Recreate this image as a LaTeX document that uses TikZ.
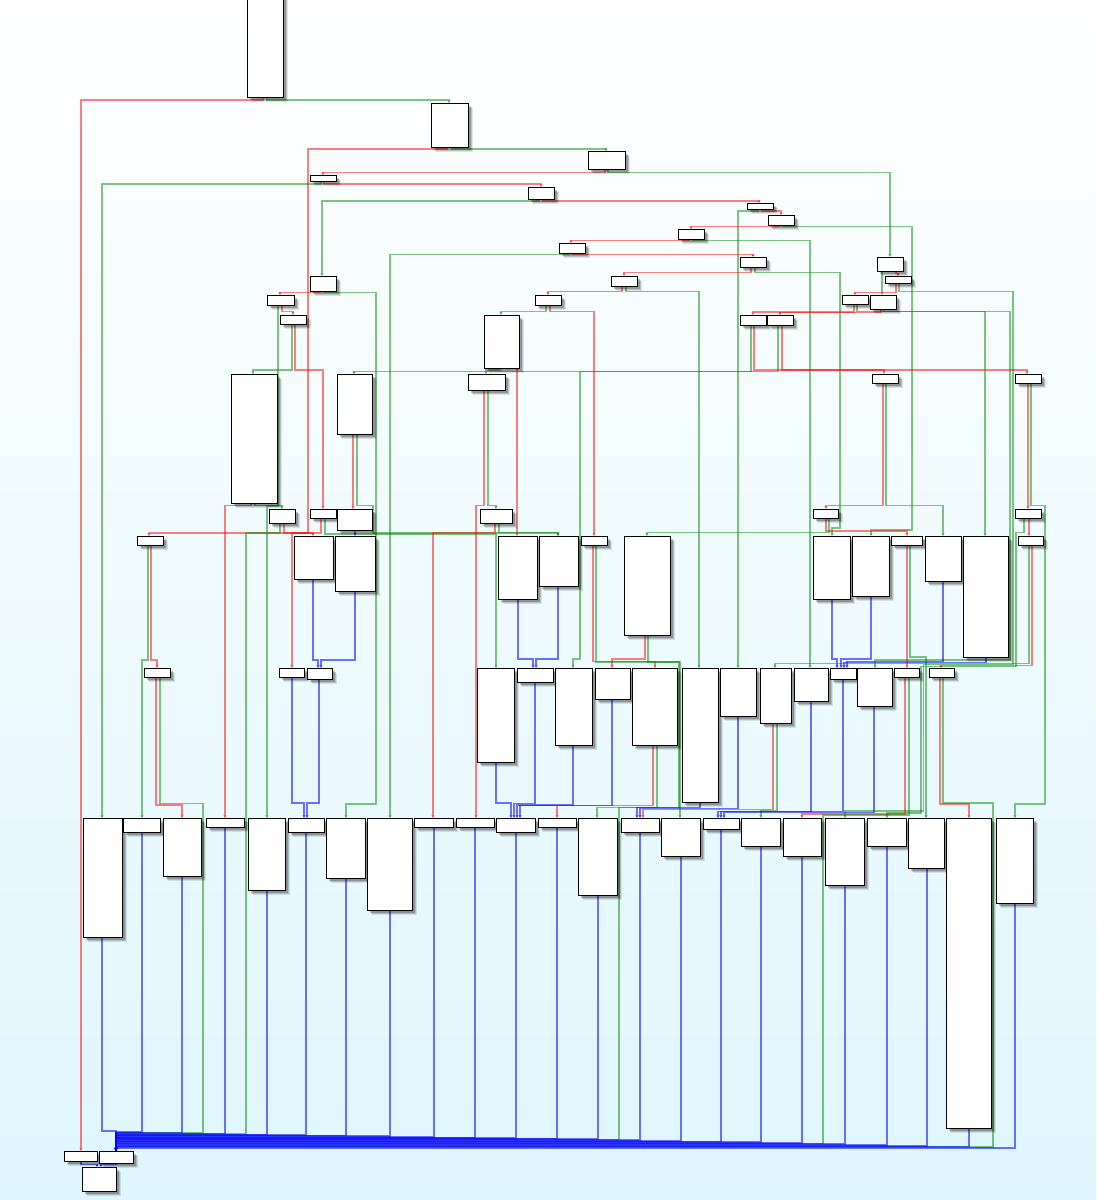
\documentclass[tikz,border=0pt]{standalone}
\usetikzlibrary{arrows.meta,shadows}
\definecolor{bgc}{RGB}{222,246,253}
\definecolor{egr}{RGB}{0,140,0}
\pgfdeclarelayer{bgl}\pgfdeclarelayer{edl}\pgfsetlayers{bgl,edl,main}
\tikzset{
 blk/.style={draw=black,line width=0.9pt,fill=white,inner sep=0pt,outer sep=0pt,anchor=north west,
   drop shadow={shadow xshift=4.5pt,shadow yshift=-4.5pt,opacity=0.10,fill=black},
   drop shadow={shadow xshift=3.5pt,shadow yshift=-3.5pt,opacity=0.15,fill=black},
   drop shadow={shadow xshift=2.5pt,shadow yshift=-2.5pt,opacity=0.22,fill=black}},
 ed/.style={line width=1.4pt,opacity=0.5,-{Stealth[length=3pt,width=3.2pt]}},
 re/.style={ed,draw=red},
 ge/.style={ed,draw=egr},
 be/.style={ed,draw=blue,opacity=0.55},
}
\newcommand\bx[5]{\node[blk,minimum width={#4pt-#2pt},minimum height={#5pt-#3pt}] (#1) at (#2,#3) {};}
\begin{document}
\begin{tikzpicture}[x=1pt,y=-1pt]
\useasboundingbox (0,0) rectangle (1096,1200);
\begin{pgfonlayer}{bgl}\shade[top color=white,bottom color=bgc] (0,0) rectangle (1096,1200);\end{pgfonlayer}
\bx{B1}{247}{-5}{283}{97}
\bx{B2}{431}{103}{468}{147}
\bx{B3}{588}{151}{625}{169}
\bx{B4}{310}{175}{336}{181}
\bx{B5}{528}{187}{554}{199}
\bx{B6}{747}{203}{773}{209}
\bx{B7}{768}{215}{794}{225}
\bx{B8}{678}{229}{704}{239}
\bx{B9}{559}{243}{585}{253}
\bx{B10}{740}{257}{766}{267}
\bx{B11}{611}{276}{637}{286}
\bx{B12}{310}{276}{336}{291}
\bx{B13}{267}{295}{294}{305}
\bx{B14}{535}{295}{561}{305}
\bx{B15}{280}{315}{306}{324}
\bx{B16}{484}{315}{519}{368}
\bx{B17}{740}{315}{766}{325}
\bx{B18}{767}{315}{793}{325}
\bx{B19}{877}{257}{903}{271}
\bx{B20}{885}{276}{911}{283}
\bx{B21}{842}{295}{868}{304}
\bx{B22}{870}{295}{896}{309}
\bx{B23}{872}{374}{898}{383}
\bx{B24}{1015}{374}{1041}{383}
\bx{B25}{231}{374}{277}{503}
\bx{B26}{337}{374}{372}{434}
\bx{B27}{468}{374}{505}{390}
\bx{B28}{269}{509}{295}{523}
\bx{B29}{310}{509}{336}{518}
\bx{B30}{337}{509}{372}{530}
\bx{B31}{480}{509}{512}{523}
\bx{B32}{137}{536}{163}{545}
\bx{B33}{294}{536}{333}{579}
\bx{B34}{335}{536}{375}{591}
\bx{B35}{498}{536}{537}{599}
\bx{B36}{539}{536}{578}{586}
\bx{B37}{581}{536}{607}{545}
\bx{B38}{624}{536}{670}{635}
\bx{B39}{813}{509}{838}{518}
\bx{B40}{813}{536}{850}{599}
\bx{B41}{852}{536}{889}{596}
\bx{B42}{891}{536}{922}{545}
\bx{B43}{925}{536}{961}{581}
\bx{B44}{963}{536}{1008}{657}
\bx{B45}{1015}{509}{1041}{518}
\bx{B46}{1018}{536}{1043}{545}
\bx{B47}{144}{668}{170}{677}
\bx{B48}{279}{668}{304}{677}
\bx{B49}{307}{668}{332}{679}
\bx{B50}{477}{668}{514}{762}
\bx{B51}{517}{668}{553}{682}
\bx{B52}{555}{668}{592}{745}
\bx{B53}{595}{668}{630}{699}
\bx{B54}{632}{668}{677}{745}
\bx{B55}{682}{668}{718}{802}
\bx{B56}{720}{668}{756}{716}
\bx{B57}{760}{668}{791}{723}
\bx{B58}{794}{668}{828}{701}
\bx{B59}{830}{668}{856}{679}
\bx{B60}{857}{668}{892}{706}
\bx{B61}{894}{668}{919}{677}
\bx{B62}{929}{668}{954}{677}
\bx{C1}{83}{818}{122}{937}
\bx{C2}{123}{818}{160}{832}
\bx{C3}{163}{818}{201}{876}
\bx{C4}{206}{818}{244}{827}
\bx{C5}{248}{818}{285}{890}
\bx{C6}{288}{818}{324}{832}
\bx{C7}{326}{818}{365}{878}
\bx{C8}{367}{818}{412}{910}
\bx{C9}{414}{818}{453}{827}
\bx{C10}{456}{818}{494}{827}
\bx{C11}{496}{818}{535}{832}
\bx{C12}{538}{818}{576}{827}
\bx{C13}{578}{818}{617}{895}
\bx{C14}{621}{818}{659}{832}
\bx{C15}{661}{818}{700}{856}
\bx{C16}{703}{818}{739}{829}
\bx{C17}{741}{818}{780}{846}
\bx{C18}{783}{818}{821}{856}
\bx{C19}{825}{818}{864}{885}
\bx{C20}{867}{818}{906}{846}
\bx{C21}{908}{818}{944}{868}
\bx{C22}{946}{818}{991}{1128}
\bx{C23}{996}{818}{1033}{903}
\bx{D1}{64}{1151}{97}{1161}
\bx{D2}{99}{1151}{133}{1163}
\bx{D3}{82}{1167}{116}{1191}
\begin{pgfonlayer}{edl}
\draw[re] (263,0|-B1.south) -- (263,100) -- (81,100) -- (81,0|-D1.north);
\draw[ge] (267,0|-B1.south) -- (267,100) -- (449,100) -- (449,0|-B2.north);
\draw[re] (447,0|-B2.south) -- (447,149) -- (308,149) -- (308,533) -- (149,533) -- (149,0|-B32.north);
\draw[ge] (452,0|-B2.south) -- (452,149) -- (606,149) -- (606,0|-B3.north);
\draw[re] (605,0|-B3.south) -- (605,172.5) -- (323,172.5) -- (323,0|-B4.north);
\draw[ge] (608,0|-B3.south) -- (608,172.5) -- (890,172.5) -- (890,0|-B19.north);
\draw[ge] (321,0|-B4.south) -- (321,184) -- (102,184) -- (102,0|-C1.north);
\draw[re] (324,0|-B4.south) -- (324,184) -- (541,184) -- (541,0|-B5.north);
\draw[ge] (539,0|-B5.south) -- (539,201) -- (322,201) -- (322,0|-B12.north);
\draw[re] (543,0|-B5.south) -- (543,201) -- (759,201) -- (759,0|-B6.north);
\draw[ge] (758,0|-B6.south) -- (758,211) -- (738,211) -- (738,0|-B56.north);
\draw[re] (762,0|-B6.south) -- (762,211) -- (781,211) -- (781,0|-B7.north);
\draw[re] (779,0|-B7.south) -- (779,226.5) -- (691,226.5) -- (691,0|-B8.north);
\draw[ge] (783,0|-B7.south) -- (783,226.5) -- (912,226.5) -- (912,530) -- (871,530) -- (871,0|-B41.north);
\draw[re] (689,0|-B8.south) -- (689,240.5) -- (571,240.5) -- (571,0|-B9.north);
\draw[ge] (693,0|-B8.south) -- (693,240.5) -- (810,240.5) -- (810,0|-B58.north);
\draw[re] (573,0|-B9.south) -- (573,254.5) -- (753,254.5) -- (753,0|-B10.north);
\draw[ge] (569,0|-B9.south) -- (569,254.5) -- (390,254.5) -- (390,0|-C8.north);
\draw[re] (751,0|-B10.south) -- (751,272.5) -- (624,272.5) -- (624,0|-B11.north);
\draw[ge] (755,0|-B10.south) -- (755,272.5) -- (840,272.5) -- (840,528) -- (832,528) -- (832,0|-B40.north);
\draw[re] (622,0|-B11.south) -- (622,291.5) -- (548,291.5) -- (548,0|-B14.north);
\draw[ge] (626,0|-B11.south) -- (626,291.5) -- (699,291.5) -- (699,0|-B55.north);
\draw[re] (320,0|-B12.south) -- (320,292.5) -- (280,292.5) -- (280,0|-B13.north);
\draw[ge] (324,0|-B12.south) -- (324,292.5) -- (376,292.5) -- (376,804) -- (346,804) -- (346,0|-C7.north);
\draw[re] (282,0|-B13.south) -- (282,311.5) -- (293,311.5) -- (293,0|-B15.north);
\draw[ge] (278,0|-B13.south) -- (278,506) -- (267,506) -- (267,0|-C5.north);
\draw[ge] (292,0|-B15.south) -- (292,370) -- (253,370) -- (253,0|-B25.north);
\draw[re] (295,0|-B15.south) -- (295,370) -- (323,370) -- (323,0|-B29.north);
\draw[ge] (546,0|-B14.south) -- (546,311.5) -- (501,311.5) -- (501,0|-B16.north);
\draw[re] (550,0|-B14.south) -- (550,311.5) -- (594,311.5) -- (594,0|-B37.north);
\draw[ge] (500,0|-B16.south) -- (500,370) -- (486,370) -- (486,0|-B27.north);
\draw[re] (517,0|-B16.south) -- (517,0|-B35.north);
\draw[ge] (751,0|-B17.south) -- (751,371.5) -- (354,371.5) -- (354,0|-B26.north);
\draw[re] (754,0|-B17.south) -- (754,370) -- (884,370) -- (884,0|-B23.north);
\draw[ge] (778,0|-B18.south) -- (778,371.5) -- (580,371.5) -- (580,659) -- (573,659) -- (573,0|-B52.north);
\draw[re] (782,0|-B18.south) -- (782,370) -- (1027,370) -- (1027,0|-B24.north);
\draw[ge] (882,0|-B19.south) -- (882,0|-B22.north);
\draw[re] (896,0|-B19.south) -- (896,273.5) -- (898,273.5) -- (898,0|-B20.north);
\draw[re] (896,0|-B20.south) -- (896,292.5) -- (855,292.5) -- (855,0|-B21.north);
\draw[ge] (899,0|-B20.south) -- (899,291.5) -- (1013,291.5) -- (1013,664.5) -- (923.5,664.5) -- (923.5,811) -- (845,811) -- (845,0|-C19.north);
\draw[re] (854,0|-B21.south) -- (854,312) -- (753,312) -- (753,0|-B17.north);
\draw[ge] (857,0|-B21.south) -- (857,311.5) -- (985,311.5) -- (985,0|-B44.north);
\draw[re] (881,0|-B22.south) -- (881,312.5) -- (780,312.5) -- (780,0|-B18.north);
\draw[ge] (884,0|-B22.south) -- (884,311.5) -- (1010,311.5) -- (1010,660) -- (875,660) -- (875,0|-B60.north);
\draw[re] (883,0|-B23.south) -- (883,505.5) -- (826,505.5) -- (826,0|-B39.north);
\draw[ge] (886,0|-B23.south) -- (886,505.5) -- (943,505.5) -- (943,0|-B43.north);
\draw[re] (1028,0|-B24.south) -- (1028,0|-B45.north);
\draw[ge] (1031,0|-B24.south) -- (1031,505.5) -- (1045,505.5) -- (1045,804) -- (1015,804) -- (1015,0|-C23.north);
\draw[re] (251,0|-B25.south) -- (251,505.5) -- (225,505.5) -- (225,0|-C4.north);
\draw[ge] (255,0|-B25.south) -- (255,505.5) -- (282,505.5) -- (282,0|-B28.north);
\draw[re] (353,0|-B26.south) -- (353,0|-B30.north);
\draw[ge] (357,0|-B26.south) -- (357,505.5) -- (373,505.5) -- (373,533) -- (558,533) -- (558,0|-B36.north);
\draw[re] (484,0|-B27.south) -- (484,505.5) -- (476,505.5) -- (476,0|-C10.north);
\draw[ge] (488,0|-B27.south) -- (488,505.5) -- (496,505.5) -- (496,0|-B31.north);
\draw[re] (284,0|-B28.south) -- (284,533) -- (313,533) -- (313,0|-B33.north);
\draw[ge] (280,0|-B28.south) -- (280,533) -- (246,533) -- (246,1134) -- (116,1134) -- (116,0|-D2.north);
\draw[re] (321,0|-B29.south) -- (321,533) -- (292,533) -- (292,0|-B48.north);
\draw[ge] (325,0|-B29.south) -- (325,534) -- (496,534) -- (496,0|-B50.north);
\draw[be] (355,0|-B30.south) -- (355,0|-B34.north);
\draw[re] (495,0|-B31.south) -- (495,532.5) -- (433,532.5) -- (433,0|-C9.north);
\draw[ge] (499,0|-B31.south) -- (499,532.5) -- (558,532.5) -- (558,0|-B36.north);
\draw[ge] (148,0|-B32.south) -- (148,660) -- (142,660) -- (142,0|-C2.north);
\draw[re] (151,0|-B32.south) -- (151,660) -- (157,660) -- (157,0|-B47.north);
\draw[be] (313,0|-B33.south) -- (313,660) -- (318,660) -- (318,0|-B49.north);
\draw[be] (355,0|-B34.south) -- (355,660) -- (321,660) -- (321,0|-B49.north);
\draw[be] (518,0|-B35.south) -- (518,659) -- (533,659) -- (533,0|-B51.north);
\draw[be] (558,0|-B36.south) -- (558,659) -- (536,659) -- (536,0|-B51.north);
\draw[re] (593,0|-B37.south) -- (593,661.5) -- (655,661.5) -- (655,0|-B54.north);
\draw[ge] (596,0|-B37.south) -- (596,662) -- (679,662) -- (679,807.5) -- (619,807.5) -- (619,1139.5) -- (116,1139.5) -- (116,0|-D2.north);
\draw[re] (645,0|-B38.south) -- (645,659) -- (612,659) -- (612,0|-B53.north);
\draw[ge] (648,0|-B38.south) -- (648,662) -- (680,662) -- (680,0|-C15.north);
\draw[re] (826,0|-B39.south) -- (826,531) -- (907,531) -- (907,0|-B42.north);
\draw[ge] (829,0|-B39.south) -- (829,532.5) -- (647,532.5) -- (647,0|-B38.north);
\draw[be] (832,0|-B40.south) -- (832,659) -- (837,659) -- (837,0|-B59.north);
\draw[be] (871,0|-B41.south) -- (871,659) -- (841,659) -- (841,0|-B59.north);
\draw[re] (907,0|-B42.south) -- (907,0|-B61.north);
\draw[ge] (910,0|-B42.south) -- (910,657) -- (926,657) -- (926,0|-C21.north);
\draw[be] (943,0|-B43.south) -- (943,661.5) -- (847,661.5) -- (847,0|-B59.north);
\draw[be] (986,0|-B44.south) -- (986,662.5) -- (844,662.5) -- (844,0|-B59.north);
\draw[re] (1029,0|-B45.south) -- (1029,0|-B46.north);
\draw[ge] (1024,0|-B45.south) -- (1024,532.5) -- (1016,532.5) -- (1016,666.5) -- (921,666.5) -- (921,813) -- (887,813) -- (887,0|-C20.north);
\draw[re] (1032,0|-B46.south) -- (1032,665.5) -- (941,665.5) -- (941,0|-B62.north);
\draw[ge] (1029,0|-B46.south) -- (1029,663.5) -- (775,663.5) -- (775,0|-B57.north);
\draw[re] (156,0|-B47.south) -- (156,805) -- (182,805) -- (182,0|-C3.north);
\draw[ge] (160,0|-B47.south) -- (160,803.5) -- (203,803.5) -- (203,1133) -- (116,1133) -- (116,0|-D2.north);
\draw[be] (292,0|-B48.south) -- (292,803) -- (304,803) -- (304,0|-C6.north);
\draw[be] (319,0|-B49.south) -- (319,803) -- (307,803) -- (307,0|-C6.north);
\draw[be] (496,0|-B50.south) -- (496,803) -- (511,803) -- (511,0|-C11.north);
\draw[be] (535,0|-B51.south) -- (535,803.5) -- (514,803.5) -- (514,0|-C11.north);
\draw[be] (573,0|-B52.south) -- (573,805) -- (517,805) -- (517,0|-C11.north);
\draw[be] (612,0|-B53.south) -- (612,805.5) -- (520,805.5) -- (520,0|-C11.north);
\draw[re] (653,0|-B54.south) -- (653,805.5) -- (557,805.5) -- (557,0|-C12.north);
\draw[ge] (657,0|-B54.south) -- (657,807.5) -- (597,807.5) -- (597,0|-C13.north);
\draw[be] (700,0|-B55.south) -- (700,807.5) -- (637,807.5) -- (637,0|-C14.north);
\draw[be] (738,0|-B56.south) -- (738,808.5) -- (640,808.5) -- (640,0|-C14.north);
\draw[re] (773,0|-B57.south) -- (773,809.5) -- (643,809.5) -- (643,0|-C14.north);
\draw[ge] (777,0|-B57.south) -- (777,810.5) -- (761,810.5) -- (761,0|-C17.north);
\draw[be] (811,0|-B58.south) -- (811,811.5) -- (718,811.5) -- (718,0|-C16.north);
\draw[be] (843,0|-B59.south) -- (843,811.5) -- (721,811.5) -- (721,0|-C16.north);
\draw[be] (874,0|-B60.south) -- (874,812.5) -- (724,812.5) -- (724,0|-C16.north);
\draw[re] (905,0|-B61.south) -- (905,814) -- (802,814) -- (802,0|-C18.north);
\draw[ge] (909,0|-B61.south) -- (909,815) -- (823,815) -- (823,1143.5) -- (116,1143.5) -- (116,0|-D2.north);
\draw[re] (940,0|-B62.south) -- (940,804) -- (969,804) -- (969,0|-C22.north);
\draw[ge] (943,0|-B62.south) -- (943,803) -- (993,803) -- (993,1147) -- (116,1147) -- (116,0|-D2.north);
% bus
\draw[be] (102,0|-C1.south) -- (102,1131) -- (116,1131) -- (116,0|-D2.north);
\draw[be] (142,0|-C2.south) -- (142,1132) -- (116,1132) -- (116,0|-D2.north);
\draw[be] (182,0|-C3.south) -- (182,1132.5) -- (116,1132.5) -- (116,0|-D2.north);
\draw[be] (225,0|-C4.south) -- (225,1133.5) -- (116,1133.5) -- (116,0|-D2.north);
\draw[be] (267,0|-C5.south) -- (267,1134.5) -- (116,1134.5) -- (116,0|-D2.north);
\draw[be] (306,0|-C6.south) -- (306,1135) -- (116,1135) -- (116,0|-D2.north);
\draw[be] (346,0|-C7.south) -- (346,1135.5) -- (116,1135.5) -- (116,0|-D2.north);
\draw[be] (390,0|-C8.south) -- (390,1136) -- (116,1136) -- (116,0|-D2.north);
\draw[be] (434,0|-C9.south) -- (434,1137) -- (116,1137) -- (116,0|-D2.north);
\draw[be] (475,0|-C10.south) -- (475,1137.5) -- (116,1137.5) -- (116,0|-D2.north);
\draw[be] (516,0|-C11.south) -- (516,1138) -- (116,1138) -- (116,0|-D2.north);
\draw[be] (557,0|-C12.south) -- (557,1138.5) -- (116,1138.5) -- (116,0|-D2.north);
\draw[be] (598,0|-C13.south) -- (598,1139) -- (116,1139) -- (116,0|-D2.north);
\draw[be] (640,0|-C14.south) -- (640,1140) -- (116,1140) -- (116,0|-D2.north);
\draw[be] (681,0|-C15.south) -- (681,1141) -- (116,1141) -- (116,0|-D2.north);
\draw[be] (721,0|-C16.south) -- (721,1141.5) -- (116,1141.5) -- (116,0|-D2.north);
\draw[be] (761,0|-C17.south) -- (761,1142) -- (116,1142) -- (116,0|-D2.north);
\draw[be] (802,0|-C18.south) -- (802,1143) -- (116,1143) -- (116,0|-D2.north);
\draw[be] (845,0|-C19.south) -- (845,1144) -- (116,1144) -- (116,0|-D2.north);
\draw[be] (887,0|-C20.south) -- (887,1145) -- (116,1145) -- (116,0|-D2.north);
\draw[be] (927,0|-C21.south) -- (927,1146) -- (116,1146) -- (116,0|-D2.north);
\draw[be] (969,0|-C22.south) -- (969,1146.5) -- (116,1146.5) -- (116,0|-D2.north);
\draw[be] (1015,0|-C23.south) -- (1015,1148) -- (116,1148) -- (116,0|-D2.north);
\draw[be] (81,0|-D1.south) -- (81,1164.5) -- (97,1164.5) -- (97,0|-D3.north);
\draw[be] (116,0|-D2.south) -- (116,1164.5) -- (101,1164.5) -- (101,0|-D3.north);
\end{pgfonlayer}
\end{tikzpicture}
\end{document}
